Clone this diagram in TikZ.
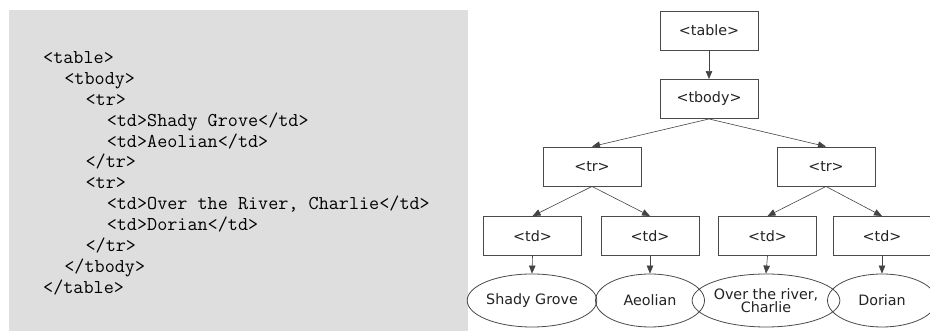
\documentclass[tikz,border=0pt]{standalone}
\usepackage{fontspec}
\setsansfont{DejaVu Sans}
\usetikzlibrary{arrows.meta,shapes.geometric}
\definecolor{panel}{HTML}{DEDEDE}
\definecolor{ink}{HTML}{222222}
\definecolor{edge}{HTML}{4A4A4A}
\tikzset{tag/.style={draw=edge,line width=.9pt,minimum width=98pt,minimum height=39pt,inner sep=0pt,
    text=ink,font=\sffamily\fontsize{14.3}{15}\selectfont},
  leaf/.style={ellipse,draw=edge,line width=.8pt,minimum width=109pt,minimum height=53pt,inner sep=0pt,
    align=center,text=ink,font=\sffamily\fontsize{14.3}{13.5}\selectfont},
  link/.style={draw=ink!85,line width=.6pt,-{Triangle[length=8pt,width=6.5pt]}},
  code/.style={anchor=base west,inner sep=0pt,text=black,font=\ttfamily\fontsize{19.6}{21}\selectfont}}

\begin{document}
\begin{tikzpicture}[x=1pt,y=1pt]
\useasboundingbox (0,0) rectangle (930,331);
% source listing
\fill[panel] (9,0) rectangle (468,321);
\node[code] (l1) at (43,267.5) {<table>};
\node[code] (l2) at (64.2,246.6) {<tbody>};
\node[code] (l3) at (85.4,225.7) {<tr>};
\node[code] (l4) at (106.6,204.8) {<td>Shady Grove</td>};
\node[code] (l5) at (106.6,183.9) {<td>Aeolian</td>};
\node[code] (l6) at (85.4,163) {</tr>};
\node[code] (l7) at (85.4,142.1) {<tr>};
\node[code] (l8) at (106.6,121.2) {<td>Over the River, Charlie</td>};
\node[code] (l9) at (106.6,100.3) {<td>Dorian</td>};
\node[code] (l10) at (85.4,79.4) {</tr>};
\node[code] (l11) at (64.2,58.5) {</tbody>};
\node[code] (l12) at (43,37.6) {</table>};
% tree
\node[tag] (table) at (709,300.5) {<table>};
\node[tag] (tbody) at (709,232) {<tbody>};
\node[tag] (trA) at (592,164.5) {<tr>};
\node[tag] (trB) at (826,164.5) {<tr>};
\node[tag] (tdA) at (532.5,95) {<td>};
\node[tag] (tdB) at (650,95) {<td>};
\node[tag] (tdC) at (767.5,95) {<td>};
\node[tag] (tdD) at (882,95) {<td>};
\node[leaf] (shady) at (532,30.5) {Shady Grove};
\node[leaf] (aeol) at (650,30.5) {Aeolian};
\node[leaf,minimum width=115pt] (river) at (766,30.5) {Over the river,\\Charlie};
\node[leaf] (dorian) at (882,30.5) {Dorian};
\draw[link] (table.south) -- (tbody.north);
\draw[link] (tbody.south) -- (trA.north);
\draw[link] (tbody.south) -- (trB.north);
\draw[link] (trA.south) -- (tdA.north);
\draw[link] (trA.south) -- (tdB.north);
\draw[link] (trB.south) -- (tdC.north);
\draw[link] (trB.south) -- (tdD.north);
\draw[link] (tdA.south) -- (shady.north);
\draw[link] (tdB.south) -- (aeol.north);
\draw[link] (tdC.south) -- (river.north);
\draw[link] (tdD.south) -- (dorian.north);
\end{tikzpicture}
\end{document}
